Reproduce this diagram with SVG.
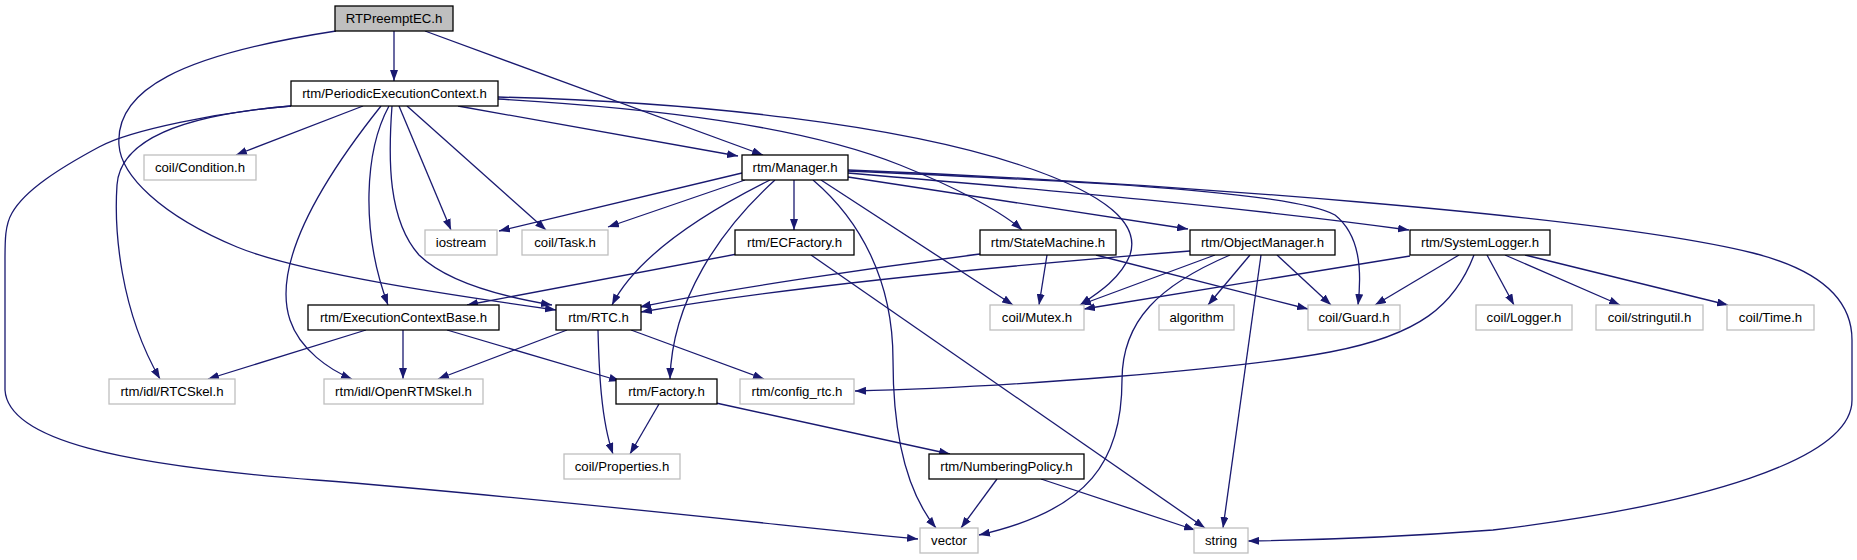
<svg xmlns="http://www.w3.org/2000/svg" width="1857" height="560" viewBox="0 0 1857 560">
<defs>
<marker id="ah" markerUnits="userSpaceOnUse" markerWidth="11" markerHeight="8" refX="11" refY="4" orient="auto">
<path d="M0,0 L11,4 L0,8 z" fill="#191970"/>
</marker>
<style>
.n rect{fill:#fff;stroke:#000;stroke-width:1.3}
.g rect{fill:#fff;stroke:#bfbfbf;stroke-width:1.3}
.r rect{fill:#bfbfbf;stroke:#000;stroke-width:1.3}
text{font-family:"Liberation Sans",Arial,sans-serif;font-size:13.2px;fill:#000;text-anchor:middle}
#edges path{fill:none;stroke:#191970;stroke-width:1.3;marker-end:url(#ah)}
</style>
</defs>
<rect width="1857" height="560" fill="#fff"/>
<g id="edges">
<path d="M394,31 L394,81"/>
<path d="M336,31 C180,55 115,90 119,145 C121,175 160,215 237,247 C300,273 450,295 556,310"/>
<path d="M425,31 L763,155"/>
<path d="M363,106 L236,155"/>
<path d="M458,106 L738,156"/>
<path d="M399,106 L451,230"/>
<path d="M407,106 L546,230"/>
<path d="M389,106 C365,150 360,230 388,305"/>
<path d="M392,106 C388,160 388,220 419,255 C450,285 510,298 552,305"/>
<path d="M381,106 C330,170 270,260 290,320 C300,350 330,370 352,379"/>
<path d="M291,106 C180,115 120,140 117,185 C114,230 120,310 160,379"/>
<path d="M291,106 C220,112 130,130 99,147 C60,168 25,190 12,213 C5,225 5,240 5,260 L5,390 C8,440 120,465 316,480 C520,496 750,522 918,539"/>
<path d="M498,99 C650,108 800,125 900,165 C950,185 1000,210 1022,230"/>
<path d="M498,97 C700,102 900,125 1020,165 C1110,195 1140,225 1130,255 C1120,280 1095,295 1080,305"/>
<path d="M742,173 L499,231"/>
<path d="M745,180 L608,227"/>
<path d="M770,180 C720,205 640,250 612,305"/>
<path d="M775,180 C720,230 672,300 670,379"/>
<path d="M794,180 L794,230"/>
<path d="M813,180 C860,220 893,280 893,360 C893,430 905,490 936,528"/>
<path d="M821,180 L1013,305"/>
<path d="M848,177 L1188,229"/>
<path d="M848,173 C1050,190 1250,208 1409,230"/>
<path d="M848,171 C1050,180 1290,190 1335,215 C1360,235 1362,270 1358,305"/>
<path d="M848,170 C1150,182 1600,215 1753,253 C1820,270 1852,300 1852,340 L1852,400 C1852,460 1700,505 1493,530 C1400,537 1320,540 1248,541"/>
<path d="M737,254 L467,305"/>
<path d="M811,255 L1205,528"/>
<path d="M980,254 C870,268 720,290 640,307"/>
<path d="M1047,255 L1039,305"/>
<path d="M1096,255 L1308,309"/>
<path d="M1190,251 C1000,266 800,285 641,312"/>
<path d="M1215,255 L1080,305"/>
<path d="M1250,255 L1208,305"/>
<path d="M1261,255 L1223,528"/>
<path d="M1277,255 L1331,305"/>
<path d="M1230,255 C1160,285 1122,320 1122,380 C1122,460 1090,510 979,535"/>
<path d="M1410,256 L1084,309"/>
<path d="M1459,255 L1375,305"/>
<path d="M1474,255 C1455,305 1420,335 1330,352 C1240,369 1000,388 855,391"/>
<path d="M1487,255 L1514,305"/>
<path d="M1505,255 L1620,305"/>
<path d="M1525,255 L1728,305"/>
<path d="M366,330 L208,379"/>
<path d="M403,330 L403,379"/>
<path d="M447,330 L620,381"/>
<path d="M567,330 L438,379"/>
<path d="M598,330 C599,370 601,420 613,454"/>
<path d="M631,330 L764,379"/>
<path d="M659,404 L630,454"/>
<path d="M716,403 L950,454"/>
<path d="M997,479 L961,528"/>
<path d="M1041,479 L1195,530"/>
</g>
<g id="n0" class="r"><rect x="335" y="6" width="118" height="25"/><text x="394" y="23">RTPreemptEC.h</text></g>
<g id="n1" class="n"><rect x="291" y="81" width="207" height="25"/><text x="394.5" y="98">rtm/PeriodicExecutionContext.h</text></g>
<g id="n2" class="g"><rect x="144" y="155" width="112" height="25"/><text x="200" y="172">coil/Condition.h</text></g>
<g id="n3" class="n"><rect x="742" y="155" width="106" height="25"/><text x="795" y="172">rtm/Manager.h</text></g>
<g id="n4" class="g"><rect x="425" y="230" width="72" height="25"/><text x="461" y="247">iostream</text></g>
<g id="n5" class="g"><rect x="522" y="230" width="86" height="25"/><text x="565" y="247">coil/Task.h</text></g>
<g id="n6" class="n"><rect x="735" y="230" width="119" height="25"/><text x="794.5" y="247">rtm/ECFactory.h</text></g>
<g id="n7" class="n"><rect x="980" y="230" width="136" height="25"/><text x="1048" y="247">rtm/StateMachine.h</text></g>
<g id="n8" class="n"><rect x="1190" y="230" width="145" height="25"/><text x="1262.5" y="247">rtm/ObjectManager.h</text></g>
<g id="n9" class="n"><rect x="1410" y="230" width="140" height="25"/><text x="1480" y="247">rtm/SystemLogger.h</text></g>
<g id="n10" class="n"><rect x="308" y="305" width="191" height="25"/><text x="403.5" y="322">rtm/ExecutionContextBase.h</text></g>
<g id="n11" class="n"><rect x="556" y="305" width="85" height="25"/><text x="598.5" y="322">rtm/RTC.h</text></g>
<g id="n12" class="g"><rect x="990" y="305" width="94" height="25"/><text x="1037" y="322">coil/Mutex.h</text></g>
<g id="n13" class="g"><rect x="1159" y="305" width="75" height="25"/><text x="1196.5" y="322">algorithm</text></g>
<g id="n14" class="g"><rect x="1308" y="305" width="92" height="25"/><text x="1354" y="322">coil/Guard.h</text></g>
<g id="n15" class="g"><rect x="1476" y="305" width="96" height="25"/><text x="1524" y="322">coil/Logger.h</text></g>
<g id="n16" class="g"><rect x="1596" y="305" width="107" height="25"/><text x="1649.5" y="322">coil/stringutil.h</text></g>
<g id="n17" class="g"><rect x="1727" y="305" width="87" height="25"/><text x="1770.5" y="322">coil/Time.h</text></g>
<g id="n18" class="g"><rect x="109" y="379" width="126" height="25"/><text x="172" y="396">rtm/idl/RTCSkel.h</text></g>
<g id="n19" class="g"><rect x="324" y="379" width="159" height="25"/><text x="403.5" y="396">rtm/idl/OpenRTMSkel.h</text></g>
<g id="n20" class="n"><rect x="616" y="379" width="101" height="25"/><text x="666.5" y="396">rtm/Factory.h</text></g>
<g id="n21" class="g"><rect x="740" y="379" width="114" height="25"/><text x="797" y="396">rtm/config_rtc.h</text></g>
<g id="n22" class="g"><rect x="564" y="454" width="116" height="25"/><text x="622" y="471">coil/Properties.h</text></g>
<g id="n23" class="n"><rect x="929" y="454" width="155" height="25"/><text x="1006.5" y="471">rtm/NumberingPolicy.h</text></g>
<g id="n24" class="g"><rect x="920" y="528" width="58" height="25"/><text x="949" y="545">vector</text></g>
<g id="n25" class="g"><rect x="1194" y="528" width="54" height="25"/><text x="1221" y="545">string</text></g>
</svg>
